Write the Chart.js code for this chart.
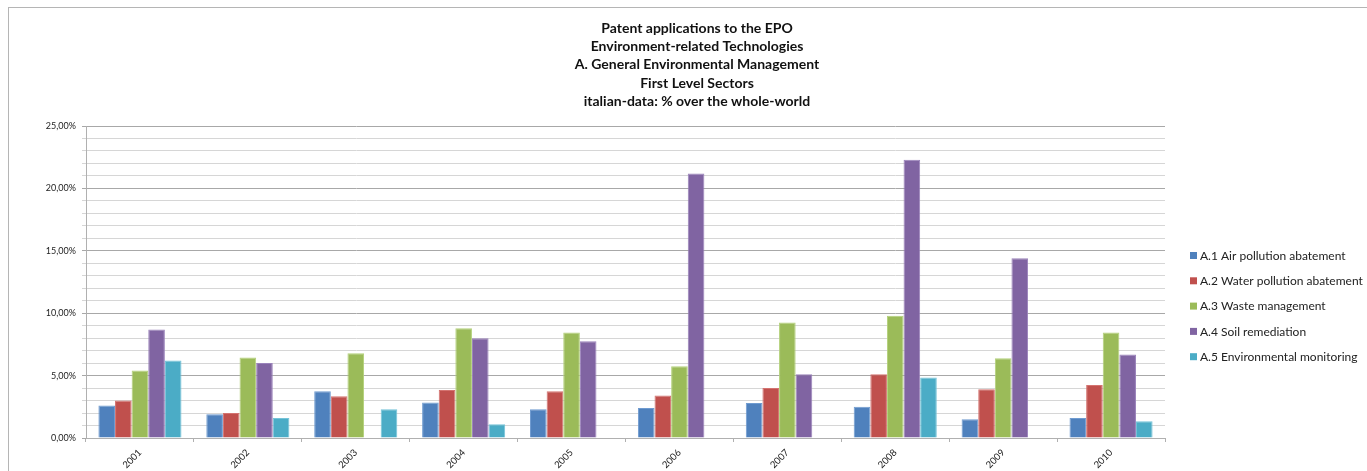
<!DOCTYPE html>
<html>
<head>
<meta charset="utf-8">
<script src="https://cdn.jsdelivr.net/npm/chart.js@4"></script>
<style>
    html, body { margin: 0; padding: 0; background: #fff; overflow: hidden; }
    #box { position: absolute; left: 8px; top: 7px; width: 1400px; height: 470px;
           border-left: 1px solid #b5b5b5; border-top: 1px solid #b5b5b5; }
    #wrap { position: absolute; left: 0; top: 0; width: 1391px; height: 463px; }
</style>
</head>
<body>
<div id="box"><div id="wrap"><canvas id="myChart"></canvas></div></div>
<script>
// data (% over the whole world)
var years = ['2001', '2002', '2003', '2004', '2005', '2006', '2007', '2008', '2009', '2010'];
var airPollution   = [2.6, 1.9, 3.75, 2.85, 2.3, 2.4, 2.8, 2.5, 1.5, 1.6];
var waterPollution = [3.0, 2.0, 3.35, 3.85, 3.75, 3.4, 4.0, 5.1, 3.9, 4.25];
var wasteMgmt      = [5.4, 6.45, 6.8, 8.8, 8.45, 5.75, 9.25, 9.8, 6.4, 8.45];
var soilRemed      = [8.7, 6.0, 0, 8.0, 7.75, 21.2, 5.1, 22.3, 14.4, 6.7];
var envMonitoring  = [6.2, 1.6, 2.3, 1.1, 0, 0, 0, 4.85, 0, 1.35];
var seriesNames = ['A.1 Air pollution abatement', 'A.2 Water pollution abatement',
    'A.3 Waste management', 'A.4 Soil remediation', 'A.5 Environmental monitoring'];
var titleLines = ['Patent applications to the EPO', 'Environment-related Technologies',
    'A. General Environmental Management', 'First Level Sectors', 'italian-data: % over the whole-world'];

var colors = ['#4F81BD', '#C0504D', '#9BBB59', '#8064A2', '#4BACC6'];
var borders = ['#6f9bd0', '#d47370', '#b3d17a', '#9a82bb', '#74c3d8'];
var seriesData = [airPollution, waterPollution, wasteMgmt, soilRemed, envMonitoring];

var FONT = 'Lato, "Open Sans", sans-serif';

// title and legend drawn by hand: the title is centred on the whole box, not the plot
var decorations = {
    id: 'decorations',
    afterDraw: function (chart) {
        var ctx = chart.ctx;
        var area = chart.chartArea;
        ctx.save();
        ctx.textBaseline = 'middle';

        ctx.textAlign = 'center';
        ctx.fillStyle = '#111';
        ctx.font = 'bold 14px ' + FONT;
        titleLines.forEach(function (t, i) {
            ctx.fillText(t, 688, 20 + i * 18.4);
        });

        ctx.textAlign = 'left';
        ctx.font = '12px ' + FONT;
        chart.data.datasets.forEach(function (ds, i) {
            var x = area.right + 25;
            var y = area.top + 130 + i * 25.3;
            ctx.fillStyle = ds.backgroundColor;
            ctx.fillRect(x, y - 4, 7, 7);
            ctx.fillStyle = '#222';
            ctx.fillText(ds.label, x + 10, y);
        });
        ctx.restore();
    }
};

var datasets = [];
for (var i = 0; i < seriesData.length; i++) {
    datasets.push({
        label: seriesNames[i],
        data: seriesData[i],
        backgroundColor: colors[i],
        borderColor: borders[i],
        borderWidth: 1,
        categoryPercentage: 0.77,
        barPercentage: 1.0
    });
}

var ctx = document.getElementById('myChart').getContext('2d');
var myChart = new Chart(ctx, {
    type: 'bar',
    data: { labels: years, datasets: datasets },
    plugins: [decorations],
    options: {
        responsive: true,
        maintainAspectRatio: false,
        animation: false,
        layout: { padding: { left: 0, right: 235, top: 118, bottom: 0 } },
        plugins: {
            legend: { display: false },
            tooltip: { enabled: false },
            title: { display: false }
        },
        scales: {
            x: {
                grid: { drawOnChartArea: false, offset: true, tickLength: 4, color: '#b0b0b0' },
                border: { color: '#b0b0b0' },
                ticks: {
                    minRotation: 45, maxRotation: 45, padding: 5,
                    color: '#222', font: { family: FONT, size: 9.5 }
                },
                afterFit: function (scale) { scale.height = 33; }
            },
            y: {
                min: 0, max: 25,
                border: { color: '#b0b0b0' },
                grid: {
                    tickLength: 4,
                    color: function (c) {
                        return (c.tick && c.tick.value % 5 === 0) ? '#a8a8a8' : '#d6d6d6';
                    }
                },
                ticks: {
                    stepSize: 1, autoSkip: false, padding: 6,
                    color: '#222', font: { family: FONT, size: 9 },
                    callback: function (v) {
                        return v % 5 === 0 ? v.toFixed(2).replace('.', ',') + '%' : '';
                    }
                },
                afterFit: function (scale) { scale.width = 77; }
            }
        }
    }
});
</script>
</body>
</html>
